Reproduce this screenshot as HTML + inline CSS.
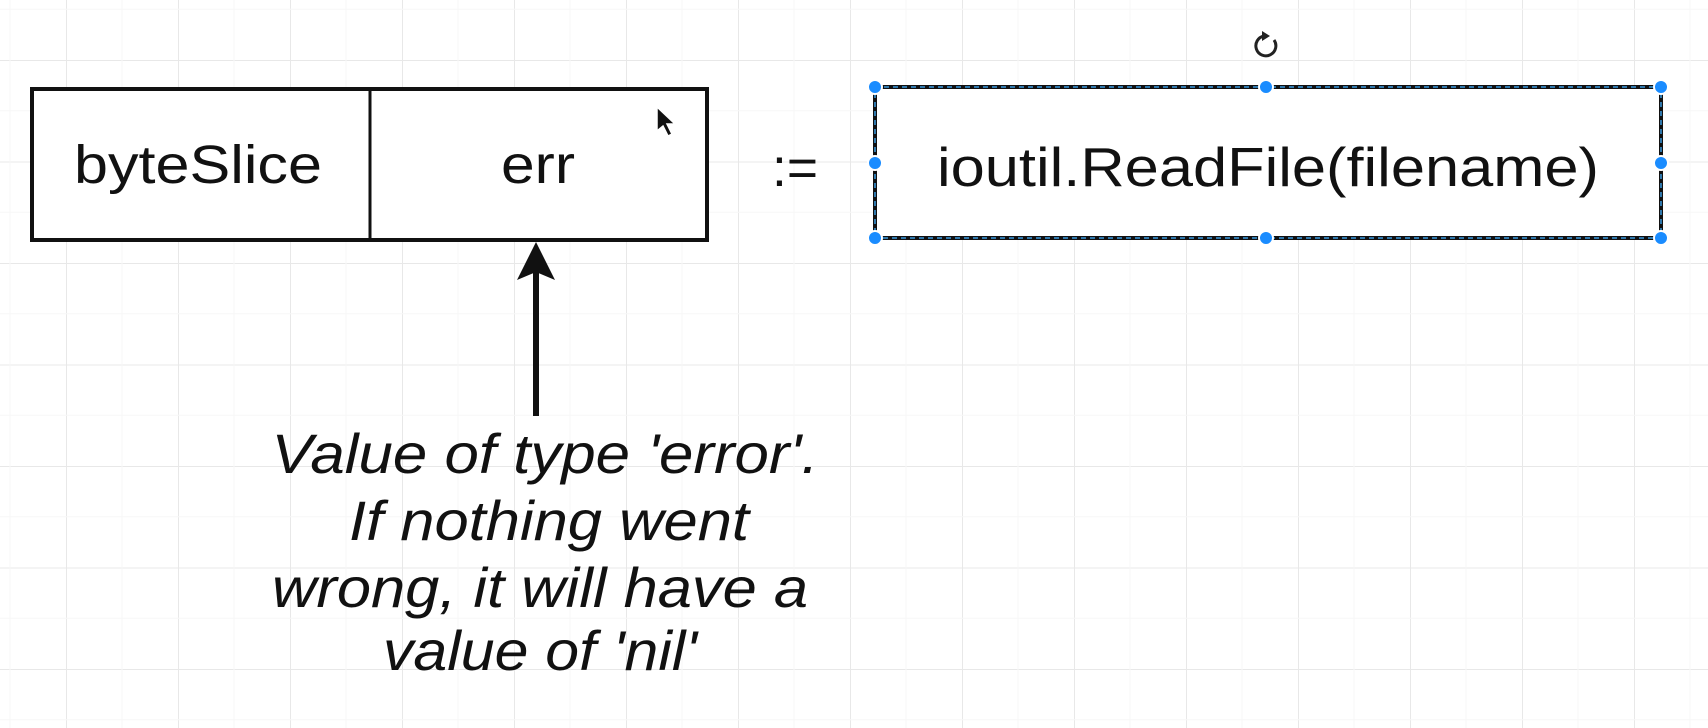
<!DOCTYPE html>
<html><head><meta charset="utf-8"><style>
html,body{margin:0;padding:0;background:#fff;}
svg{display:block;}
text{font-family:"Liberation Sans",Arial,sans-serif;fill:#111;}
</style></head><body>
<svg width="1708" height="728" viewBox="0 0 1708 728" xmlns="http://www.w3.org/2000/svg">
<defs>
<pattern id="g" x="66" y="60" width="112" height="101.5" patternUnits="userSpaceOnUse">
<path d="M0 0V101.5M0 0H112" stroke="#e8e8e8" stroke-width="2" fill="none"/>
<path d="M56 0V101.5M0 50.7H112" stroke="#f7f7f7" stroke-width="1" fill="none"/>
</pattern>
</defs>
<rect width="1708" height="728" fill="url(#g)"/>
<rect x="32" y="89" width="675" height="151" fill="#fff" stroke="#111" stroke-width="4"/>
<line x1="370" y1="89" x2="370" y2="240" stroke="#111" stroke-width="3"/>
<text x="198" y="183" font-size="54" text-anchor="middle" textLength="248" lengthAdjust="spacingAndGlyphs">byteSlice</text>
<text x="538" y="183" font-size="54" text-anchor="middle" textLength="74" lengthAdjust="spacingAndGlyphs">err</text>
<text x="795" y="186" font-size="54" text-anchor="middle" textLength="46" lengthAdjust="spacingAndGlyphs">:=</text>
<path d="M657 107 L657 131 L663 126 L668 136 L672 134 L667 124 L675 124 Z" fill="#111" stroke="#fff" stroke-width="1.5"/>
<rect x="875" y="87" width="786" height="151" fill="#fff" stroke="#111" stroke-width="4"/>
<rect x="875" y="87" width="786" height="151" fill="none" stroke="#3a9ae0" stroke-width="1.5" stroke-dasharray="5 4"/>
<text x="1268" y="186" font-size="55" text-anchor="middle" textLength="662" lengthAdjust="spacingAndGlyphs">ioutil.ReadFile(filename)</text>
<g fill="#1a8cff" stroke="#fff" stroke-width="2">
<circle cx="875" cy="87" r="7"/><circle cx="1266" cy="87" r="7"/><circle cx="1661" cy="87" r="7"/>
<circle cx="875" cy="163" r="7"/><circle cx="1661" cy="163" r="7"/>
<circle cx="875" cy="238" r="7"/><circle cx="1266" cy="238" r="7"/><circle cx="1661" cy="238" r="7"/>
</g>
<path d="M1274 40 A10 10 0 1 1 1264 36" fill="none" stroke="#222" stroke-width="3"/>
<path d="M1262 31 L1270 36 L1262 41 Z" fill="#222"/>
<line x1="536" y1="416" x2="536" y2="270" stroke="#111" stroke-width="6"/>
<path d="M536 242 L517 280 L536 272 L555 280 Z" fill="#111"/>
<g font-style="italic" font-size="56" text-anchor="middle">
<text x="545" y="473" textLength="547" lengthAdjust="spacingAndGlyphs">Value of type 'error'.</text>
<text x="549" y="540" textLength="400" lengthAdjust="spacingAndGlyphs">If nothing went</text>
<text x="540" y="607" textLength="536" lengthAdjust="spacingAndGlyphs">wrong, it will have a</text>
<text x="540" y="670" textLength="314" lengthAdjust="spacingAndGlyphs">value of 'nil'</text>
</g>
</svg>
</body></html>
